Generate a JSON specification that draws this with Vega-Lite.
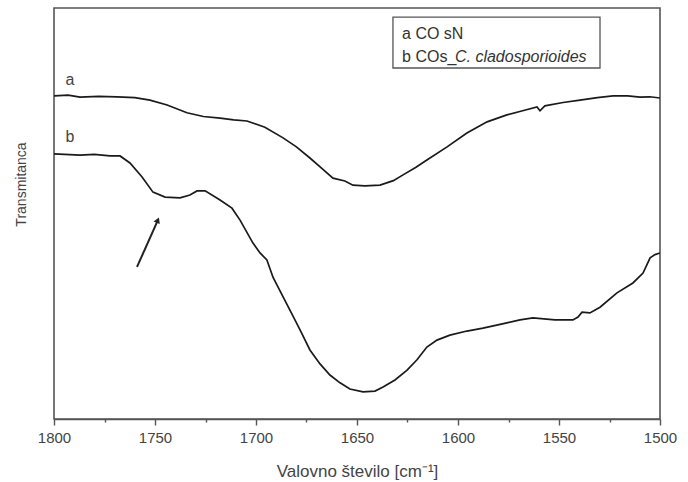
{
  "$schema": "https://vega.github.io/schema/vega-lite/v6.json",
  "width": 606,
  "height": 411,
  "autosize": "none",
  "padding": {"left": 54, "top": 8, "right": 28, "bottom": 63},
  "background": "white",
  "config": {
    "view": {"stroke": "#555", "strokeWidth": 1.6},
    "font": "Liberation Sans"
  },
  "datasets": {
    "spectra": [
      {"wn": 1800, "t": 78.6, "s": "a"}, {"wn": 1793, "t": 78.8, "s": "a"}, {"wn": 1787.1, "t": 78.3, "s": "a"}, {"wn": 1778, "t": 78.5, "s": "a"}, {"wn": 1768.8, "t": 78.4, "s": "a"}, {"wn": 1760, "t": 78.2, "s": "a"}, {"wn": 1752.5, "t": 77.6, "s": "a"}, {"wn": 1744, "t": 76.4, "s": "a"}, {"wn": 1734.2, "t": 74.5, "s": "a"}, {"wn": 1726, "t": 73.6, "s": "a"}, {"wn": 1717.8, "t": 73.2, "s": "a"}, {"wn": 1711, "t": 72.8, "s": "a"}, {"wn": 1704.5, "t": 72.5, "s": "a"}, {"wn": 1695.6, "t": 71.0, "s": "a"}, {"wn": 1686.6, "t": 68.4, "s": "a"}, {"wn": 1680, "t": 66.2, "s": "a"}, {"wn": 1673.3, "t": 63.5, "s": "a"}, {"wn": 1667, "t": 60.8, "s": "a"}, {"wn": 1661.9, "t": 58.6, "s": "a"}, {"wn": 1656.0, "t": 57.9, "s": "a"}, {"wn": 1652.0, "t": 56.9, "s": "a"}, {"wn": 1646.1, "t": 56.7, "s": "a"}, {"wn": 1638.6, "t": 56.9, "s": "a"}, {"wn": 1632, "t": 58.0, "s": "a"}, {"wn": 1627.2, "t": 59.4, "s": "a"}, {"wn": 1621, "t": 61.2, "s": "a"}, {"wn": 1615.4, "t": 63.0, "s": "a"}, {"wn": 1605.4, "t": 66.2, "s": "a"}, {"wn": 1595.6, "t": 69.6, "s": "a"}, {"wn": 1585.6, "t": 72.3, "s": "a"}, {"wn": 1575.8, "t": 74.0, "s": "a"}, {"wn": 1568, "t": 75.0, "s": "a"}, {"wn": 1560.9, "t": 75.9, "s": "a"}, {"wn": 1559.4, "t": 75.0, "s": "a"}, {"wn": 1557.0, "t": 76.2, "s": "a"}, {"wn": 1548, "t": 77.0, "s": "a"}, {"wn": 1539.6, "t": 77.6, "s": "a"}, {"wn": 1531, "t": 78.2, "s": "a"}, {"wn": 1523.3, "t": 78.6, "s": "a"}, {"wn": 1516, "t": 78.6, "s": "a"}, {"wn": 1509.9, "t": 78.3, "s": "a"}, {"wn": 1505, "t": 78.4, "s": "a"}, {"wn": 1500, "t": 78.1, "s": "a"},
      {"wn": 1800, "t": 64.5, "s": "b"}, {"wn": 1787.1, "t": 64.2, "s": "b"}, {"wn": 1780, "t": 64.4, "s": "b"}, {"wn": 1772.3, "t": 64.0, "s": "b"}, {"wn": 1767.3, "t": 64.0, "s": "b"}, {"wn": 1762.4, "t": 62.3, "s": "b"}, {"wn": 1756.4, "t": 58.9, "s": "b"}, {"wn": 1751.0, "t": 55.2, "s": "b"}, {"wn": 1745.0, "t": 54.0, "s": "b"}, {"wn": 1737.6, "t": 53.8, "s": "b"}, {"wn": 1732.7, "t": 54.5, "s": "b"}, {"wn": 1729.2, "t": 55.5, "s": "b"}, {"wn": 1725.2, "t": 55.5, "s": "b"}, {"wn": 1717.8, "t": 53.3, "s": "b"}, {"wn": 1711.9, "t": 51.3, "s": "b"}, {"wn": 1707.9, "t": 48.4, "s": "b"}, {"wn": 1701.5, "t": 42.8, "s": "b"}, {"wn": 1698.0, "t": 40.4, "s": "b"}, {"wn": 1694.6, "t": 38.7, "s": "b"}, {"wn": 1691.6, "t": 34.5, "s": "b"}, {"wn": 1687.1, "t": 30.2, "s": "b"}, {"wn": 1683.2, "t": 26.5, "s": "b"}, {"wn": 1678.2, "t": 21.7, "s": "b"}, {"wn": 1673.3, "t": 16.8, "s": "b"}, {"wn": 1668.3, "t": 13.4, "s": "b"}, {"wn": 1663.4, "t": 10.7, "s": "b"}, {"wn": 1658.4, "t": 8.8, "s": "b"}, {"wn": 1653.5, "t": 7.3, "s": "b"}, {"wn": 1647.0, "t": 6.6, "s": "b"}, {"wn": 1641.1, "t": 6.8, "s": "b"}, {"wn": 1637.1, "t": 7.8, "s": "b"}, {"wn": 1631.2, "t": 9.5, "s": "b"}, {"wn": 1625.2, "t": 11.9, "s": "b"}, {"wn": 1620.3, "t": 14.4, "s": "b"}, {"wn": 1615.4, "t": 17.5, "s": "b"}, {"wn": 1610.4, "t": 19.2, "s": "b"}, {"wn": 1604.0, "t": 20.4, "s": "b"}, {"wn": 1595.6, "t": 21.4, "s": "b"}, {"wn": 1587.6, "t": 22.1, "s": "b"}, {"wn": 1575.8, "t": 23.4, "s": "b"}, {"wn": 1569.3, "t": 24.1, "s": "b"}, {"wn": 1562.9, "t": 24.6, "s": "b"}, {"wn": 1552.0, "t": 24.1, "s": "b"}, {"wn": 1543.1, "t": 24.1, "s": "b"}, {"wn": 1540.6, "t": 24.8, "s": "b"}, {"wn": 1538.6, "t": 26.0, "s": "b"}, {"wn": 1534.7, "t": 25.8, "s": "b"}, {"wn": 1529.7, "t": 27.2, "s": "b"}, {"wn": 1521.3, "t": 30.7, "s": "b"}, {"wn": 1513.4, "t": 33.1, "s": "b"}, {"wn": 1508.4, "t": 35.5, "s": "b"}, {"wn": 1504.9, "t": 39.2, "s": "b"}, {"wn": 1502.5, "t": 40.0, "s": "b"}, {"wn": 1500, "t": 40.4, "s": "b"}
    ],
    "curveLabels": [
      {"wn": 1792.1, "t": 82.5, "text": "a"},
      {"wn": 1792.1, "t": 68.6, "text": "b"}
    ],
    "legendBox": [
      {"x1": 1632.2, "x2": 1529.7, "y1": 97.8, "y2": 85.4}
    ],
    "legendText": [
      {"wn": 1627.7, "t": 93.7, "text": "a CO sN"},
      {"wn": 1627.7, "t": 88.1, "text": "b COs_"}
    ],
    "legendItalic": [
      {"wn": 1601.5, "t": 88.1, "text": "C. cladosporioides"}
    ],
    "arrow": [
      {"wn": 1758.9, "t": 37.0, "wn2": 1749.0, "t2": 47.9}
    ],
    "arrowHead": [
      {"wn": 1748.6, "t": 48.4}
    ]
  },
  "layer": [
    {
      "data": {"name": "spectra"},
      "mark": {"type": "line", "color": "#1a1a1a", "strokeWidth": 1.7, "clip": true},
      "encoding": {
        "x": {
          "field": "wn", "type": "quantitative",
          "scale": {"domain": [1500, 1800], "reverse": true, "nice": false},
          "axis": {
            "title": "Valovno število [cm⁻¹]",
            "values": [1800, 1775, 1750, 1725, 1700, 1675, 1650, 1625, 1600, 1575, 1550, 1525, 1500],
            "labelExpr": "datum.value % 50 === 0 ? datum.label : ''",
            "format": "d",
            "labelFlush": false,
            "labelOverlap": false,
            "tickSize": {"condition": {"test": "datum.value % 50 === 0", "value": 6}, "value": 3},
            "grid": false,
            "domainColor": "#555", "domainWidth": 1.6,
            "tickColor": "#555", "tickWidth": 1.4,
            "labelFontSize": 15, "labelColor": "#444", "labelPadding": 5,
            "titleFontSize": 17, "titleFontWeight": "normal", "titleColor": "#444",
            "titleBaseline": "alphabetic", "titleY": 57
          }
        },
        "y": {
          "field": "t", "type": "quantitative",
          "scale": {"domain": [0, 100], "nice": false},
          "axis": {
            "title": "Transmitanca",
            "labels": false, "ticks": false, "domain": false, "grid": false,
            "titleFontSize": 14, "titleFontWeight": "normal", "titleColor": "#444",
            "titleBaseline": "alphabetic", "titleX": -29, "titleY": 176
          }
        },
        "detail": {"field": "s"}
      }
    },
    {
      "data": {"name": "curveLabels"},
      "mark": {"type": "text", "fontSize": 16, "color": "#444", "align": "center", "baseline": "middle"},
      "encoding": {
        "x": {"field": "wn", "type": "quantitative"},
        "y": {"field": "t", "type": "quantitative"},
        "text": {"field": "text"}
      }
    },
    {
      "data": {"name": "legendBox"},
      "mark": {"type": "rect", "fill": "white", "stroke": "#555", "strokeWidth": 1.3},
      "encoding": {
        "x": {"field": "x1", "type": "quantitative"},
        "x2": {"field": "x2"},
        "y": {"field": "y1", "type": "quantitative"},
        "y2": {"field": "y2"}
      }
    },
    {
      "data": {"name": "legendText"},
      "mark": {"type": "text", "fontSize": 16, "color": "#333", "align": "left", "baseline": "middle"},
      "encoding": {
        "x": {"field": "wn", "type": "quantitative"},
        "y": {"field": "t", "type": "quantitative"},
        "text": {"field": "text"}
      }
    },
    {
      "data": {"name": "legendItalic"},
      "mark": {"type": "text", "fontSize": 16, "fontStyle": "italic", "color": "#333", "align": "left", "baseline": "middle"},
      "encoding": {
        "x": {"field": "wn", "type": "quantitative"},
        "y": {"field": "t", "type": "quantitative"},
        "text": {"field": "text"}
      }
    },
    {
      "data": {"name": "arrow"},
      "mark": {"type": "rule", "color": "#222", "strokeWidth": 2},
      "encoding": {
        "x": {"field": "wn", "type": "quantitative"},
        "y": {"field": "t", "type": "quantitative"},
        "x2": {"field": "wn2"},
        "y2": {"field": "t2"}
      }
    },
    {
      "data": {"name": "arrowHead"},
      "mark": {"type": "point", "shape": "triangle-up", "filled": true, "color": "#222", "size": 45, "angle": 23, "opacity": 1},
      "encoding": {
        "x": {"field": "wn", "type": "quantitative"},
        "y": {"field": "t", "type": "quantitative"}
      }
    }
  ]
}
